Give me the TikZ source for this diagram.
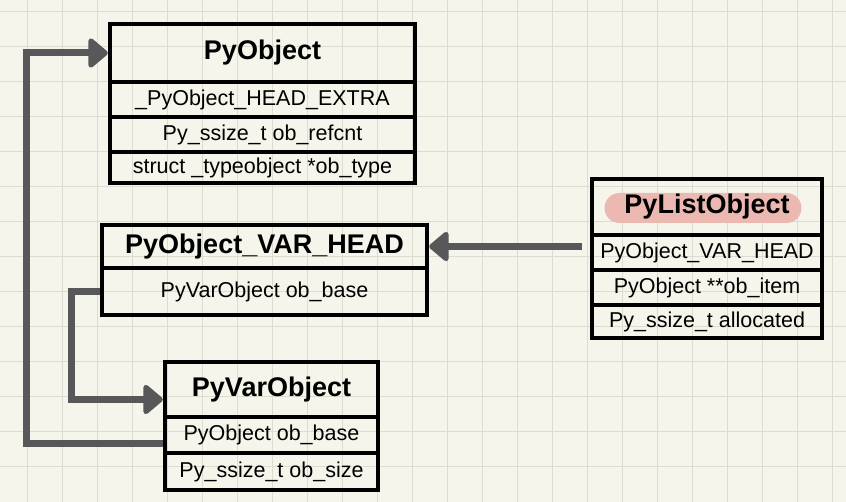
\documentclass[tikz,border=0pt]{standalone}
\usepackage{fontspec}
\setmainfont{Liberation Sans}
\usetikzlibrary{arrows.meta}
\definecolor{paperCream}{HTML}{F5F5EB}
\definecolor{gridGray}{HTML}{DCDCD0}
\definecolor{linkGray}{HTML}{58585A}
\definecolor{markPink}{HTML}{EBB9B1}
\begin{document}
\begin{tikzpicture}
[x=1pt,y=-1pt,%
  gridLine/.style={color=gridGray,line width=1.3pt},%
  titleBox/.style={shape=rectangle,draw,line width=4.5pt,inner sep=0pt,font=\fontsize{27}{30}\selectfont\bfseries},%
  rowBox/.style={shape=rectangle,draw,line width=4.5pt,inner sep=0pt,font=\fontsize{21.5}{24}\selectfont},%
  linkArrow/.style={-{Triangle[length=21pt,width=34pt,round]},line width=7pt,color=linkGray},%
  pinkMark/.style={shape=rectangle,fill=markPink,rounded corners=15pt,inner sep=0pt}]
%% paper and grid
\useasboundingbox (0,0) rectangle (846,502);
\fill[paperCream] (0,0) rectangle (846,502);
\foreach \gx in {27.7,62.7,...,832.7}
{
  \draw[gridLine] (\gx,0) -- (\gx,502);
}
\foreach \gy in {11.7,46.7,...,500}
{
  \draw[gridLine] (0,\gy) -- (846,\gy);
}
%% PyObject
\node (objTitle) at (262.5,53) [titleBox,minimum width=305pt,minimum height=58pt] {PyObject};
\foreach \nodename/\y/\h/\txt in {objExtra/99.5/35/\_PyObject\_HEAD\_EXTRA,
  objRefcnt/134.5/35/Py\_ssize\_t ob\_refcnt, objType/167.5/31/struct \_typeobject *ob\_type}
{
  \node (\nodename) at (262.5,\y) [rowBox,minimum width=305pt,minimum height=\h pt] {\txt};
}
%% PyObject_VAR_HEAD
\node (vhTitle) at (264.5,246.5) [titleBox,minimum width=325pt,minimum height=43pt] {PyObject\_VAR\_HEAD};
\node (vhBase) at (264.5,291.5) [rowBox,minimum width=325pt,minimum height=47pt] {PyVarObject ob\_base};
%% PyVarObject
\node (voTitle) at (271.5,389.5) [titleBox,minimum width=213pt,minimum height=55pt] {PyVarObject};
\foreach \nodename/\y/\h/\txt in {voBase/435/36/PyObject ob\_base, voSize/471.5/37/Py\_ssize\_t ob\_size}
{
  \node (\nodename) at (271.5,\y) [rowBox,minimum width=213pt,minimum height=\h pt] {\txt};
}
%% PyListObject
\node (loMark) at (703,208) [pinkMark,minimum width=197pt,minimum height=30pt] {};
\node (loTitle) at (707,207) [titleBox,minimum width=230pt,minimum height=56pt] {PyListObject};
\foreach \nodename/\y/\h/\txt in {loHead/252.5/35/PyObject\_VAR\_HEAD,
  loItem/287.5/35/PyObject **ob\_item, loAlloc/321.5/33/Py\_ssize\_t allocated}
{
  \node (\nodename) at (707,\y) [rowBox,minimum width=230pt,minimum height=\h pt] {\txt};
}
%% links
\draw[linkArrow] ([yshift=-8pt]voBase.west) -- ++(-136,0) |- (objTitle.west);
\draw[linkArrow] (vhBase.west) -- ++(-28,0) |- ([yshift=-10pt]voTitle.west);
\draw[linkArrow,shorten <=8pt] (loHead.west |- vhTitle.east) -- (vhTitle.east);
\end{tikzpicture}
\end{document}
